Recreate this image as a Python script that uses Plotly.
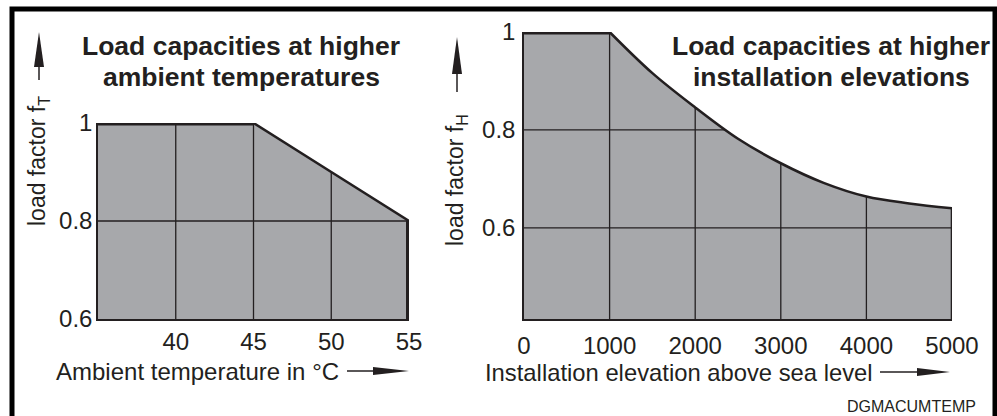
import plotly.graph_objects as go

W, H = 997, 416

# ---------------- data: left chart (ambient temperature) ----------------
temp_c = [35, 40, 45, 50, 55]
load_factor_t = [1.0, 1.0, 1.0, 0.9, 0.8]
temp_ticks = [40, 45, 50, 55]
ft_ticks = [0.6, 0.8, 1.0]
ft_tick_labels = ["0.6", "0.8", "1"]
temp_range = [35, 55]
ft_range = [0.6, 1.0]

# ---------------- data: right chart (installation elevation) ----------------
elevation_m = [0, 1000, 1500, 2000, 2500, 3000, 3500, 4000, 4500, 5000]
load_factor_h = [1.0, 1.0, 0.916, 0.846, 0.782, 0.732, 0.692, 0.664, 0.650, 0.640]
elev_ticks = [0, 1000, 2000, 3000, 4000, 5000]
elev_tick_labels = ["0", "1000", "2000", "3000", "4000", "5000"]
fh_ticks = [0.6, 0.8, 1.0]
fh_tick_labels = ["0.6", "0.8", "1"]
elev_range = [0, 5000]
fh_range = [0.414, 1.0]

# ---------------- style ----------------
INK = "#231f20"
GRAY = "#a7a8ab"
FONT = "Liberation Sans, Arial, Helvetica, sans-serif"
COVER_TOP = 1.5


def px_x(p):
    return p / W


def px_y(p):
    return 1 - p / H


fig = go.Figure()


def add_panel(xs, ys, xr, yr, xgrid, ygrid, xa, ya, spline_from):
    # gray area under the curve: flat part (linear) and curved part
    if spline_from > 0:
        fig.add_trace(go.Scatter(x=xs[:spline_from + 1], y=ys[:spline_from + 1],
                                 mode="lines", xaxis=xa, yaxis=ya, fill="tozeroy",
                                 fillcolor=GRAY, line=dict(width=0), hoverinfo="skip"))
    shape = "spline" if spline_from > 0 else "linear"
    cx = xs[spline_from:]
    cy = ys[spline_from:]
    fig.add_trace(go.Scatter(x=cx, y=cy, mode="lines", xaxis=xa, yaxis=ya,
                             fill="tozeroy", fillcolor=GRAY,
                             line=dict(width=0, shape=shape), hoverinfo="skip"))
    # full-span grid lines (covered above the curve afterwards)
    gx, gy = [], []
    for v in xgrid:
        gx += [v, v, None]
        gy += [yr[0], yr[1], None]
    for v in ygrid:
        gx += [xr[0], xr[1], None]
        gy += [v, v, None]
    fig.add_trace(go.Scatter(x=gx, y=gy, mode="lines", xaxis=xa, yaxis=ya,
                             line=dict(color=INK, width=1.3), hoverinfo="skip"))
    # white cover above the curve, with the curve outline
    fig.add_trace(go.Scatter(x=cx, y=[COVER_TOP] * len(cx), mode="lines",
                             xaxis=xa, yaxis=ya, line=dict(width=0, color="white"),
                             hoverinfo="skip"))
    fig.add_trace(go.Scatter(x=cx, y=cy, mode="lines", xaxis=xa, yaxis=ya,
                             fill="tonexty", fillcolor="white",
                             line=dict(color=INK, width=2.6, shape=shape),
                             hoverinfo="skip"))
    # flat top segment (half clipped at the top edge -> double width)
    fx = [x for x, y in zip(xs, ys) if y >= yr[1]]
    fy = [y for y in ys if y >= yr[1]]
    fig.add_trace(go.Scatter(x=fx, y=fy, mode="lines", xaxis=xa, yaxis=ya,
                             line=dict(color=INK, width=5), hoverinfo="skip"))


add_panel(temp_c, load_factor_t, temp_range, ft_range,
          temp_ticks[:-1], ft_ticks[1:-1], "x", "y", 0)
add_panel(elevation_m, load_factor_h, elev_range, fh_range,
          elev_ticks[1:-1], fh_ticks[:-1], "x2", "y2", 1)

# right edges
fig.add_trace(go.Scatter(x=[temp_c[-1], temp_c[-1]], y=[ft_range[0], load_factor_t[-1]],
                         mode="lines", xaxis="x", yaxis="y",
                         line=dict(color=INK, width=6), hoverinfo="skip"))
fig.add_trace(go.Scatter(x=[elevation_m[-1], elevation_m[-1]], y=[fh_range[0], load_factor_h[-1]],
                         mode="lines", xaxis="x2", yaxis="y2",
                         line=dict(color=INK, width=2.6), hoverinfo="skip"))

tickfont = dict(family=FONT, size=24, color=INK)
axis_common = dict(showgrid=False, zeroline=False, showline=True, linecolor=INK,
                   linewidth=1.5, ticks="", tickfont=tickfont, fixedrange=True,
                   automargin=False)

fig.update_layout(
    width=W, height=H,
    margin=dict(l=0, r=0, t=0, b=0, autoexpand=False),
    paper_bgcolor="white",
    plot_bgcolor="white",
    showlegend=False,
    xaxis=dict(domain=[px_x(98), px_x(409)], range=temp_range, tickmode="array",
               tickvals=temp_ticks, ticktext=[str(t) for t in temp_ticks],
               ticklabelstandoff=0, anchor="y", **axis_common),
    yaxis=dict(domain=[px_y(319), px_y(123)], range=ft_range, tickmode="array",
               tickvals=ft_ticks, ticktext=ft_tick_labels, ticklabelstandoff=-1,
               anchor="x", **axis_common),
    xaxis2=dict(domain=[px_x(524), px_x(952)], range=elev_range, tickmode="array",
                tickvals=elev_ticks, ticktext=elev_tick_labels,
                ticklabelstandoff=4, anchor="y2", **axis_common),
    yaxis2=dict(domain=[px_y(319), px_y(32)], range=fh_range, tickmode="array",
                tickvals=fh_ticks, ticktext=fh_tick_labels, ticklabelstandoff=2,
                anchor="x2", **axis_common),
)

# ---------------- annotations ----------------
def note(text, x, y, size, bold=False, angle=0, xanchor="center"):
    fig.add_annotation(text=f"<b>{text}</b>" if bold else text,
                       x=px_x(x), y=px_y(y), xref="paper", yref="paper",
                       showarrow=False, textangle=angle, xanchor=xanchor,
                       yanchor="middle",
                       font=dict(family=FONT, size=size, color=INK))


note("Load capacities at higher", 241, 46, 26.5, bold=True)
note("ambient temperatures", 241, 77, 26.5, bold=True)
note("Load capacities at higher", 831, 46, 26.5, bold=True)
note("installation elevations", 831, 77, 26.5, bold=True)

note("Ambient temperature in °C", 197, 371, 24)
note("Installation elevation above sea level", 679, 372, 23.8)

note("load factor f<sub>T</sub>", 38, 161, 23, angle=-90)
note("load factor f<sub>H</sub>", 456, 180, 23, angle=-90)

note("DGMACUMTEMP", 978, 406, 16, xanchor="right")

# ---------------- decorations: arrows and frame ----------------
def path_shape(path, fill=INK, width=0):
    fig.add_shape(type="path", path=path, xref="paper", yref="paper",
                  fillcolor=fill, line=dict(color=INK, width=width), layer="above")


def vline(x, y0, y1, width=1.5):
    fig.add_shape(type="line", x0=px_x(x), x1=px_x(x), y0=px_y(y0), y1=px_y(y1),
                  xref="paper", yref="paper", line=dict(color=INK, width=width))


def hline(x0, x1, y, width=1.5):
    fig.add_shape(type="line", x0=px_x(x0), x1=px_x(x1), y0=px_y(y), y1=px_y(y),
                  xref="paper", yref="paper", line=dict(color=INK, width=width))


def up_arrow(x, tip, base, end, half=5):
    path_shape(f"M {px_x(x)} {px_y(tip)} L {px_x(x - half)} {px_y(base)} "
               f"L {px_x(x + half)} {px_y(base)} Z")
    vline(x, base - 1, end)


def right_arrow(y, start, base, tip, half=4):
    path_shape(f"M {px_x(tip)} {px_y(y)} L {px_x(base)} {px_y(y - half)} "
               f"L {px_x(base)} {px_y(y + half)} Z")
    hline(start, base + 1, y)


up_arrow(39, 32, 67, 80)
up_arrow(457, 37, 74, 92)
right_arrow(371, 347, 373, 409)
right_arrow(372, 880, 917, 950)

fig.add_shape(type="rect", x0=px_x(12), x1=px_x(995), y0=px_y(9), y1=px_y(430),
              xref="paper", yref="paper", line=dict(color="black", width=5),
              fillcolor="rgba(0,0,0,0)", layer="above")

fig.write_html("out.html", config={"displayModeBar": False},
               post_script="document.body.style.margin='0px';"
                           "document.body.style.padding='0px';"
                           "document.body.style.overflow='hidden';")
